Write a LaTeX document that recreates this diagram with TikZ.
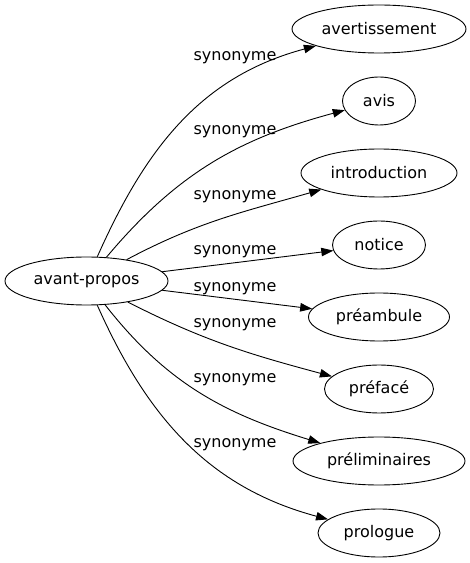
\documentclass[tikz,border=0pt]{standalone}
\usepackage{fontspec}
\setmainfont{DejaVu Sans}
\usetikzlibrary{shapes.geometric,arrows.meta}
\begin{document}
\begin{tikzpicture}[x=1pt,y=1pt,
  word/.style={ellipse,draw,line width=0.9pt,inner sep=0pt,minimum height=48pt,font=\fontsize{16}{19}\selectfont},
  rel/.style={font=\fontsize{16}{19}\selectfont,inner sep=0pt,anchor=base},
  syn/.style={line width=0.9pt,-{Triangle[length=12pt,width=8.5pt]}}]
\useasboundingbox (0,0) rectangle (470,563);
\node[word,minimum width=163pt] (src) at (86.5,282) {avant-propos};
\node[word,minimum width=174pt] (t1) at (379,534) {avertissement};
\node[word,minimum width=73pt]  (t2) at (379,462) {avis};
\node[word,minimum width=156pt] (t3) at (379,390) {introduction};
\node[word,minimum width=93pt]  (t4) at (379,318) {notice};
\node[word,minimum width=141pt] (t5) at (379,246) {préambule};
\node[word,minimum width=109pt] (t6) at (379,174) {préfacé};
\node[word,minimum width=172pt] (t7) at (379,102) {préliminaires};
\node[word,minimum width=122pt] (t8) at (379,30)  {prologue};
\draw[syn] (src) to[out=66,in=195] (t1);
\draw[syn] (src) to[out=50,in=195] (t2);
\draw[syn] (src) to[out=28,in=196] (t3);
\draw[syn] (src) to[out=7,in=187] (t4);
\draw[syn] (src) to[out=-7,in=173] (t5);
\draw[syn] (src) to[out=-27,in=165] (t6);
\draw[syn] (src) to[out=-52,in=163] (t7);
\draw[syn] (src) to[out=-66,in=165] (t8);
\node[rel] (l1) at (235,502)   {synonyme};
\node[rel] (l2) at (235,428)   {synonyme};
\node[rel] (l3) at (235,363.5) {synonyme};
\node[rel] (l4) at (235,308.5) {synonyme};
\node[rel] (l5) at (235,271.5) {synonyme};
\node[rel] (l6) at (235,235)   {synonyme};
\node[rel] (l7) at (235,180.5) {synonyme};
\node[rel] (l8) at (235,115.5) {synonyme};
\end{tikzpicture}
\end{document}
